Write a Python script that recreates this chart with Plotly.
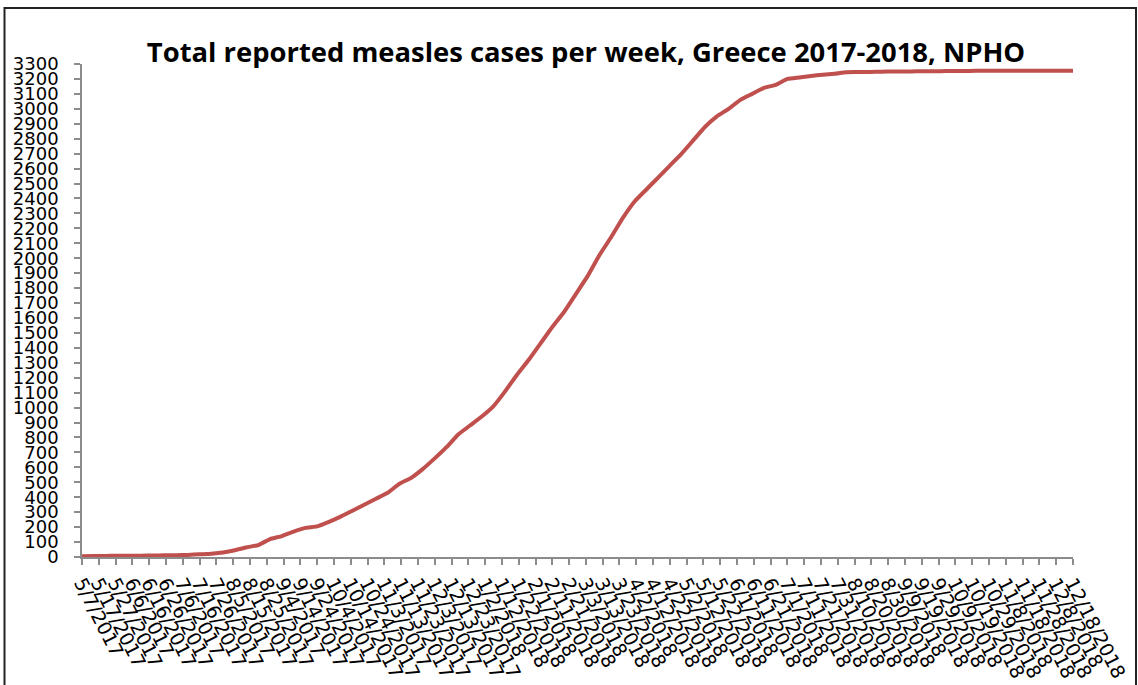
import pandas as pd
import plotly.graph_objects as go

# weekly report dates (Sundays) starting 5/7/2017, last report 12/18/2018
start_date = "2017-05-07"
n_weeks = 84
dates = list(pd.date_range(start_date, periods=n_weeks, freq="7D")) + [pd.Timestamp("2018-12-18")]

# cumulative reported measles cases
cases = [
    5, 6, 7, 8, 8, 9, 10, 11, 12, 14,
    18, 22, 30, 45, 65, 80, 120, 140, 170, 195,
    205, 235, 270, 310, 350, 390, 430, 490, 530, 590,
    660, 735, 820, 880, 940, 1010, 1110, 1220, 1320, 1430,
    1540, 1640, 1760, 1880, 2020, 2140, 2270, 2380, 2460, 2540,
    2620, 2700, 2790, 2880, 2950, 3000, 3060, 3100, 3140, 3160,
    3200, 3210, 3220, 3228, 3235, 3245, 3246, 3247, 3248, 3250,
    3250, 3251, 3252, 3252, 3253, 3253, 3254, 3254, 3255, 3255,
    3255, 3255, 3255, 3255, 3255,
]

x_range = ["2017-05-07", "2018-12-18"]
y_ticks = list(range(0, 3301, 100))
title_text = "Total reported measles cases per week, Greece 2017-2018, NPHO"

fig = go.Figure()
fig.add_trace(go.Scatter(
    x=dates, y=cases, mode="lines",
    line=dict(color="#C0504D", width=4, shape="spline", smoothing=0.4),
    showlegend=False, hoverinfo="x+y",
))

W, H = 1138, 685
L, R, T, B = 82, 65, 64, 128
pw, ph = W - L - R, H - T - B

fig.update_layout(
    width=W, height=H,
    margin=dict(l=L, r=R, t=T, b=B, pad=0, autoexpand=False),
    paper_bgcolor="white", plot_bgcolor="white",
    title=dict(text="<b>" + title_text + "</b>", x=586 / W, xanchor="center",
               y=1 - 52 / H, yanchor="middle",
               font=dict(family="Open Sans", size=27.4, color="black")),
    font=dict(family="DejaVu Sans", color="black"),
    xaxis=dict(
        type="date", range=x_range, tickmode="linear", tick0=x_range[0],
        dtick=10 * 24 * 3600 * 1000, tickformat="%-m/%-d/%Y", automargin=False,
        tickangle=63, tickfont=dict(size=19, family="DejaVu Sans", color="black"),
        showgrid=False, zeroline=False, showline=True, linecolor="#8c8c8c", linewidth=1.5,
        ticks="outside", ticklen=6, tickcolor="#8c8c8c", tickwidth=1.5,
    ),
    yaxis=dict(
        range=[0, 3300], tickvals=y_ticks, ticktext=[str(v) for v in y_ticks],
        tickfont=dict(size=18, family="DejaVu Sans", color="black"), automargin=False,
        showgrid=False, zeroline=False, showline=True, linecolor="#8c8c8c", linewidth=1.5,
        ticks="outside", ticklen=6, tickcolor="#8c8c8c", tickwidth=1.5,
        ticklabelstandoff=12,
    ),
    shapes=[dict(
        type="rect", xref="paper", yref="paper",
        x0=(4.5 - L) / pw, x1=(1136 - L) / pw,
        y0=-(B + 20) / ph, y1=(H - B - 8) / ph,
        line=dict(color="#222222", width=2), fillcolor="rgba(0,0,0,0)", layer="below",
    )],
)

fig.write_html("out.html")
